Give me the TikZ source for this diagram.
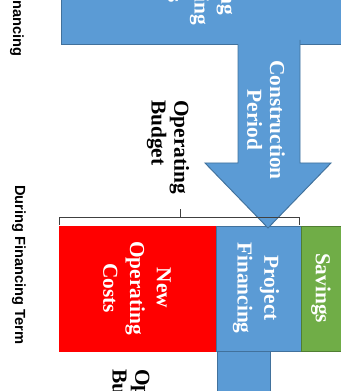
\documentclass[tikz,border=0pt]{standalone}
\usepackage{fontspec}
\setmainfont{Liberation Serif}
\newfontfamily\arialfont{Liberation Sans}
\definecolor{offblue}{HTML}{5B9BD5}
\definecolor{offblueline}{HTML}{41719C}
\definecolor{offgreen}{HTML}{70AD47}
\definecolor{offgreenline}{HTML}{507E32}
\definecolor{offred}{HTML}{FF0000}
\tikzset{
  boxtext/.style={text=white, font=\bfseries\fontsize{16}{20}\selectfont, align=center, rotate=-90, inner sep=0pt},
  arrowtext/.style={text=white, font=\bfseries\fontsize{16}{17}\selectfont, align=center, rotate=-90, inner sep=0pt},
  labeltext/.style={text=black, font=\bfseries\fontsize{16}{17}\selectfont, align=left, rotate=-90, inner sep=0pt},
  phasetext/.style={text=black, font=\arialfont\bfseries\fontsize{11}{13}\selectfont, rotate=-90, inner sep=0pt},
  bluebox/.style={rectangle, fill=offblue, draw=offblueline, line width=0.7pt, inner sep=0pt},
  bracketline/.style={draw=black!75, line width=0.6pt},
}
\begin{document}
\begin{tikzpicture}[x=0.75pt, y=-0.75pt]
\useasboundingbox (0,0) rectangle (341,391);
\clip (0,0) rectangle (341,391);
% top box (existing costs)
\node[bluebox, minimum width=280*0.75pt, minimum height=134*0.75pt] (top) at (201,-23) {};
\node[boxtext] (toptext) at (202,-22) {Existing\\Operating\\Costs};
% phase labels
\node[phasetext, anchor=east] (phase1) at (17,57) {Before Financing};
\node[phasetext] (phase2) at (19,265) {During Financing Term};
% bottom boxes
\node[rectangle, fill=offred, draw=offred, inner sep=0pt, minimum width=157*0.75pt, minimum height=125*0.75pt] (newcost) at (137.5,288.5) {};
\node[boxtext] (newcosttext) at (137,288) {New\\Operating\\Costs};
\node[bluebox, minimum width=86*0.75pt, minimum height=125*0.75pt] (proj) at (259,288.5) {};
\node[rectangle, fill=offgreen, draw=offgreenline, line width=0.7pt, inner sep=0pt, minimum width=42*0.75pt, minimum height=125*0.75pt] (save) at (322,288.5) {};
% bottom shaft
\node[bluebox, anchor=north, minimum width=53*0.75pt, minimum height=60*0.75pt] (shaft) at (243.5,351) {};
\node[boxtext] (projtext) at (256,288) {Project\\Financing};
\node[boxtext] (savetext) at (321,288) {Savings};
% construction arrow
\coordinate (arrA) at (238,40);
\coordinate (arrB) at (300,40);
\coordinate (arrC) at (300,163);
\coordinate (arrD) at (331,163);
\coordinate (arrTip) at (268,228);
\coordinate (arrE) at (205,163);
\coordinate (arrF) at (238,163);
\fill[offblue] (arrA) -- (arrB) -- (arrC) -- (arrD) -- (arrTip) -- (arrE) -- (arrF) -- cycle;
\draw[offblueline, line width=0.7pt] (arrB) -- (arrC) -- (arrD) -- (arrTip) -- (arrE) -- (arrF) -- (arrA |- top.south);
\node[arrowtext] (arrtext) at (266,120) {Construction\\Period};
% bracket
\coordinate (brL) at (59,225);
\coordinate (brLt) at (59,217);
\coordinate (brRt) at (299,217);
\coordinate (brR) at (299,225);
\coordinate (brM) at (180,217);
\coordinate (brMt) at (180,209);
\draw[bracketline] (brL) -- (brLt) -- (brRt) -- (brR);
\draw[bracketline] (brM) -- (brMt);
% labels
\node[labeltext, anchor=west] (budget1) at (168,100) {Operating\\Budget};
\node[labeltext, anchor=west] (budget2) at (129,369) {Operating\\Budget};
\end{tikzpicture}
\end{document}
